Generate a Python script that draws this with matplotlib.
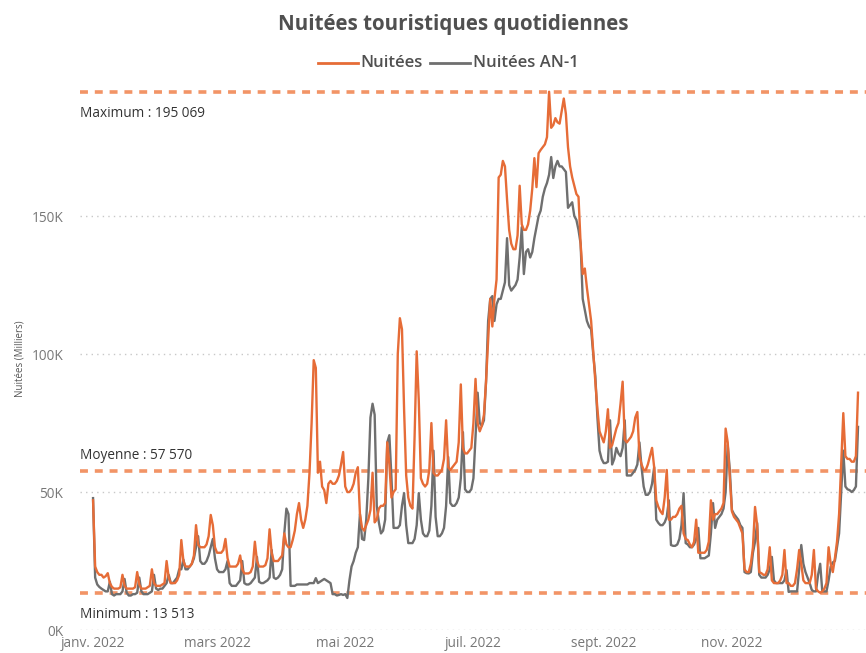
import numpy as np
import pandas as pd
import matplotlib
matplotlib.use("Agg")
import matplotlib.pyplot as plt

plt.rcParams['font.family'] = ['Open Sans', 'DejaVu Sans']

# daily values, in thousands (one row = one week, starting Saturday 1 Jan 2022)
nuitees = [
    47, 23, 21, 20, 20, 19, 19.5,
    20.6, 17, 15.6, 15, 15, 15, 15.5,
    20, 16, 15, 15, 15, 15, 15.5,
    21, 16.5, 15, 15, 15, 15.5, 16,
    22, 17, 16, 16, 16, 16.5, 17,
    25, 19, 17, 17, 17, 18, 20,
    32.6, 25, 23, 23, 23, 24, 27,
    38, 31, 30, 30, 30, 31, 34,
    41.7, 38, 30, 28, 28, 28, 29,
    33, 26, 23, 23, 23, 23, 24,
    27, 22, 20.5, 20.5, 20.5, 21, 23,
    32, 25, 23, 23, 23, 23.5, 26,
    36.5, 28, 25, 25, 25, 26, 27,
    35, 31, 30, 30, 32.6, 36, 42,
    46, 40, 37, 40, 45, 57, 75,
    97.8, 95, 57, 61, 52, 50.7, 46,
    53, 54, 53, 53, 54, 56, 60,
    64.5, 52, 50, 50, 51, 53, 57,
    59, 42, 37, 36, 38, 40, 43.5,
    57, 39, 40, 44, 45, 45, 46,
    68, 60, 48, 50, 51, 100, 113,
    109, 80, 56, 48, 45, 44, 70,
    101, 83, 55, 53, 52, 53, 58,
    75, 57, 56, 56, 57, 58, 62,
    76, 59, 58, 59, 60, 61, 68,
    89, 66, 64, 64, 65, 66, 75,
    91, 75, 72, 74, 78, 90, 105,
    120, 110, 120, 127, 164, 165, 170,
    168, 156, 145, 140, 138, 138, 143,
    161, 147, 145, 145, 147, 152, 160,
    171, 160.5, 172.8, 174, 175, 176, 178.6,
    195.069, 182, 183, 185.5, 184, 183.5, 188,
    192.6, 187, 175, 168, 164, 161, 158,
    157, 140, 129, 131, 124, 118, 112,
    101, 90, 80, 72, 70, 68, 72,
    80, 66, 67, 70, 73, 75, 82,
    90, 69, 68, 69, 70, 72, 77,
    79, 63, 60, 58, 58, 60, 63,
    66, 59, 47, 44.6, 43, 42, 48,
    58, 40, 40, 41, 41, 42, 44,
    45, 35, 33, 32.6, 31, 30, 32,
    40, 28, 28, 28, 28, 29, 32,
    47, 40, 42, 42, 43, 44, 46,
    73, 68, 55, 43, 41, 40, 39,
    37, 35, 22, 21, 21, 24, 30,
    44.6, 38, 21, 20.6, 20, 20, 22,
    30, 18, 17, 17, 17, 18, 20,
    29, 17, 17, 16, 16, 17, 22,
    29, 24, 18, 17, 17, 17, 20,
    29, 15, 14, 13.513, 14, 15, 17,
    30, 24, 21, 26, 32, 42, 60,
    78.6, 63, 62, 62, 61, 61, 63,
    86,
]

nuitees_an1 = [
    47.8, 19, 16.5, 15.6, 15, 14.5, 14,
    14, 17.5, 13, 12.5, 13, 13, 13,
    14, 18.5, 13.5, 12.5, 12.5, 13, 13,
    13.5, 19, 14, 13, 13, 13, 13.5,
    14, 20, 15, 14.5, 15, 15, 16,
    17, 20, 17, 17, 18, 19, 22,
    22, 25.5, 22, 22, 23, 24, 26,
    30, 34, 25, 24, 24, 25, 27,
    30, 33, 26, 22, 21, 21, 21,
    22, 25, 17, 16, 16, 16, 17,
    18, 25, 17, 16.5, 16.5, 17, 18,
    19, 26.5, 17.5, 17, 17, 17.5, 18,
    19, 29, 19, 18.5, 19, 20, 22,
    35, 44, 42, 16, 16, 16, 16.5,
    16.5, 16.5, 16.5, 16.5, 16.5, 17, 17,
    17, 18.8, 17, 17.5, 18, 18.5, 18,
    17.5, 17, 13, 13, 12.5, 12.7, 13,
    12.7, 13, 11.6, 18, 23, 25, 28,
    30, 42, 33, 32.6, 40, 55, 77,
    82, 78, 45, 39, 35, 36, 40,
    68, 70.6, 55, 37, 37, 37, 38,
    45, 49.6, 38, 31.5, 31.5, 31.5, 33,
    38, 49.6, 40, 35, 34, 34, 36,
    45, 65, 41, 34, 34, 35, 37,
    45, 62.7, 46, 45, 45, 46, 48,
    55, 71.7, 51, 50, 50, 51, 55,
    70, 86, 75, 74, 76, 90, 112,
    120, 121, 112, 118, 120, 120, 123,
    126, 142, 125, 123, 124, 125, 127,
    135, 146, 129, 137, 138, 135, 137,
    142, 146, 150, 152, 157, 160, 162,
    165, 171.4, 163.8, 168, 170, 168, 168,
    167, 166, 153, 154, 155, 150, 148.6,
    145, 140, 120, 116, 112, 110, 109,
    100, 92, 77, 65, 62, 60.5, 60.5,
    61, 76, 60, 62, 66, 64, 63,
    66, 76, 56, 56, 56, 57, 58,
    60, 68, 59, 52, 49, 49, 50,
    53, 59, 40, 38.8, 38, 38, 39,
    41, 47, 30.8, 30.5, 30.5, 31, 33,
    38, 49.6, 31.5, 31, 30, 30, 31,
    33, 37, 26, 26, 26, 26.5, 27,
    35, 46, 37, 40, 41, 42, 44,
    50, 67, 58, 43.5, 42, 41, 40,
    38, 37, 21, 20.6, 20.5, 21, 28,
    32, 38.8, 20, 19, 19, 19, 20,
    22, 26.5, 18, 17, 17, 17, 17,
    18, 21.7, 13.8, 14, 14, 14, 14,
    22, 30.8, 24, 21, 19, 17, 14.5,
    14, 14, 20, 24, 14, 14, 14,
    18, 23, 24.5, 25, 30, 35, 50,
    65, 52, 51, 50.7, 50, 50.7, 52,
    73.6,
]

ref_labels = ["Maximum : 195 069", "Moyenne : 57 570", "Minimum : 13 513"]
ref_values = [195069, 57570, 13513]

tick_dates = ["2022-01-01", "2022-03-01", "2022-05-01",
              "2022-07-01", "2022-09-01", "2022-11-01"]
tick_labels = ["janv. 2022", "mars 2022", "mai 2022",
               "juil. 2022", "sept. 2022", "nov. 2022"]

dates = pd.date_range("2022-01-01", periods=len(nuitees), freq="D")
y1 = np.array(nuitees) * 1000
y2 = np.array(nuitees_an1) * 1000

orange = "#E66C37"
grey = "#6F6F6F"
ref_col = "#F29466"
txt = "#505050"

fig = plt.figure(figsize=(8.66, 6.53), dpi=100)
ax = fig.add_axes([0.0924, 0.0352, 0.9076, 0.8346])

ax.plot(dates, y1, color=orange, lw=1.7, zorder=3)
ax.plot(dates, y2, color=grey, lw=1.7, zorder=2)

for lab, v in zip(ref_labels, ref_values):
    ax.axhline(v, color=ref_col, lw=2.6, ls=(0, (2.2, 1.9)), zorder=1)
    if lab.startswith("Moyenne"):
        ax.text(0.0, v + 2800, lab, transform=ax.get_yaxis_transform(),
                ha="left", va="bottom", fontsize=9.8, color="#333333")
    else:
        ax.text(0.0, v - 5000, lab, transform=ax.get_yaxis_transform(),
                ha="left", va="top", fontsize=9.8, color="#333333")

ax.set_ylim(0, 197500)
ax.set_xlim(dates[0] - pd.Timedelta(days=6.2), dates[-1] + pd.Timedelta(days=3.8))
ax.set_yticks([0, 50000, 100000, 150000])
ax.set_yticklabels(["0K", "50K", "100K", "150K"])
ax.grid(axis="y", color="#C8C8C8", ls=(0, (1, 3)), lw=1)
ax.set_axisbelow(True)

ax.set_xticks(pd.to_datetime(tick_dates))
ax.set_xticklabels(tick_labels)
ax.tick_params(axis="both", length=0, colors="#777777", labelsize=9.8)
ax.tick_params(axis="x", pad=4)
ax.tick_params(axis="y", pad=12)
for s in ax.spines.values():
    s.set_visible(False)

fig.text(0.023, 0.45, "Nuitées (Milliers)", rotation=90, ha="center", va="center",
         fontsize=7, color="#555555")

fig.text(0.523, 0.963, "Nuitées touristiques quotidiennes", ha="center", va="center",
         fontsize=14.8, fontweight="bold", color=txt)

# legend
leg_y = 0.903
fig.lines.append(plt.Line2D([0.367, 0.413], [leg_y, leg_y], color=orange, lw=2,
                            transform=fig.transFigure))
fig.text(0.416, leg_y, "Nuitées", ha="left", va="center", fontsize=12,
         fontweight="semibold", color=txt)
fig.lines.append(plt.Line2D([0.497, 0.543], [leg_y, leg_y], color=grey, lw=2,
                            transform=fig.transFigure))
fig.text(0.546, leg_y, "Nuitées AN-1", ha="left", va="center", fontsize=12,
         fontweight="semibold", color=txt)

fig.savefig("out.png", dpi=100)
